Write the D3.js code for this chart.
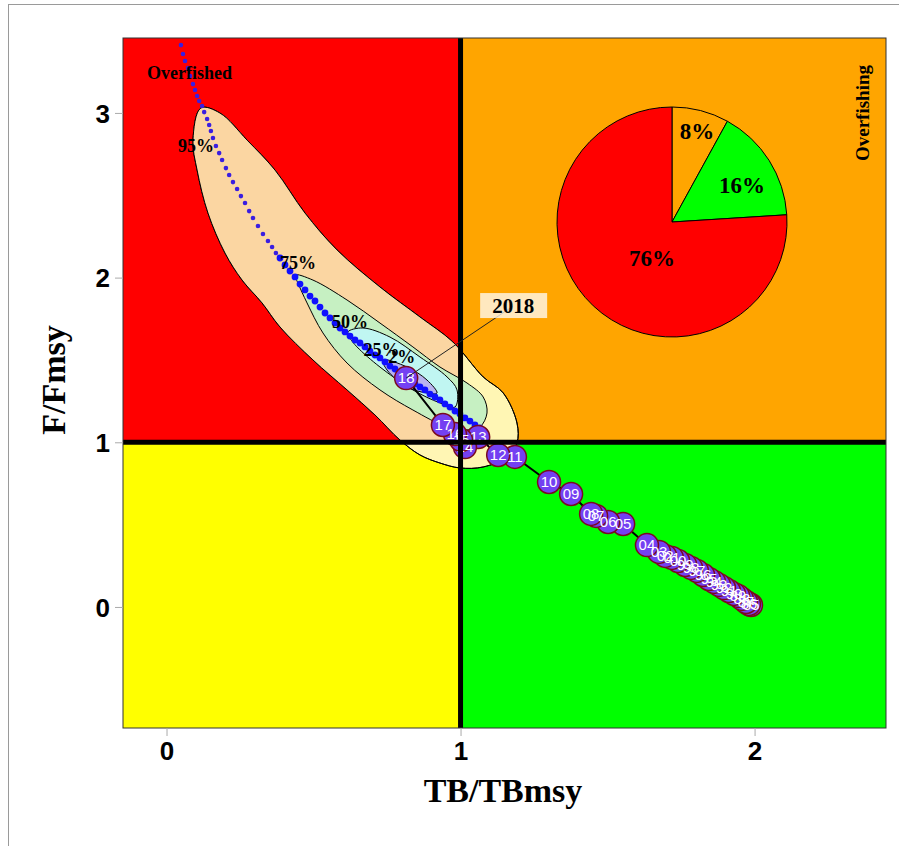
<!DOCTYPE html>
<html>
<head>
<meta charset="utf-8">
<script src="https://cdn.jsdelivr.net/npm/d3@7"></script>
<style>
  body { margin: 0; background: #fff; }
  svg { display: block; }
</style>
</head>
<body>
<div id="chart"></div>
<script>
// ---- data ----
var years = [1985,1986,1987,1988,1989,1990,1991,1992,1993,1994,1995,1996,1997,1998,1999,
             2000,2001,2002,2003,2004,2005,2006,2007,2008,2009,2010,2011,2012,2013,2014,
             2015,2016,2017,2018];
var tbRatio = [1.988,1.981,1.971,1.957,1.944,1.930,1.913,1.896,1.879,1.862,1.845,1.825,1.804,1.784,1.764,
               1.740,1.719,1.696,1.675,1.634,1.553,1.502,1.461,1.444,1.376,1.301,1.185,1.128,1.060,1.015,
               1.002,0.981,0.940,0.815];
var fRatio = [0.012,0.018,0.030,0.049,0.067,0.079,0.097,0.115,0.134,0.152,0.170,0.194,0.219,0.237,0.255,
              0.279,0.298,0.310,0.334,0.376,0.504,0.516,0.553,0.565,0.686,0.759,0.911,0.923,1.032,0.971,
              1.014,1.050,1.105,1.390];

// uncertainty cloud of the last year
var cloudX = [1.083,1.066,1.049,1.032,1.015,0.998,0.981,0.964,0.947,0.930,0.913,0.896,0.879,0.862,0.845,
              0.828,0.811,0.794,0.777,0.760,0.743,0.726,0.709,0.692,0.675,0.658,0.641,0.624,0.607,0.590,
              0.573,0.556,0.539,0.522,0.505,0.488,0.471,0.454,0.437,0.420,0.403,0.386,0.372,0.359,0.345,
              0.328,0.311,0.294,0.281,0.267,0.253,0.240,0.226,0.213,0.202,0.189,0.179,0.168,0.158,0.151,
              0.145,0.138,0.128,0.121,0.111,0.104,0.097,0.090,0.080,0.073,0.063,0.056,0.049];
var cloudY = [1.063,1.087,1.105,1.129,1.148,1.172,1.190,1.214,1.233,1.257,1.275,1.293,1.318,1.336,1.354,
              1.378,1.403,1.421,1.445,1.463,1.488,1.512,1.530,1.554,1.579,1.603,1.621,1.645,1.670,1.694,
              1.724,1.755,1.785,1.821,1.858,1.888,1.925,1.961,2.004,2.040,2.077,2.119,2.149,2.186,2.222,
              2.265,2.313,2.362,2.404,2.453,2.495,2.538,2.580,2.623,2.665,2.714,2.756,2.799,2.848,2.890,
              2.927,2.963,3.005,3.042,3.072,3.103,3.139,3.175,3.224,3.273,3.315,3.358,3.412];

// probability contours
var c95 = [[0.117,3.030],[0.182,2.999],[0.274,2.835],[0.369,2.653],[0.471,2.392],[0.580,2.168],[0.726,1.943],
           [0.862,1.761],[0.974,1.609],[1.077,1.397],[1.145,1.300],[1.192,1.117],[1.192,0.996],[1.158,0.911],
           [1.077,0.850],[0.998,0.844],[0.930,0.874],[0.862,0.923],[0.794,1.014],[0.709,1.166],[0.614,1.318],
           [0.498,1.500],[0.386,1.700],[0.325,1.846],[0.257,1.985],[0.199,2.149],[0.141,2.392],[0.104,2.653],
           [0.090,2.835]];
var c75 = [[0.437,2.016],[0.498,1.985],[0.614,1.864],[0.726,1.724],[0.838,1.579],[0.930,1.457],[1.022,1.360],
           [1.077,1.275],[1.090,1.178],[1.066,1.093],[1.022,1.075],[0.954,1.093],[0.838,1.196],[0.726,1.318],
           [0.614,1.481],[0.532,1.664],[0.478,1.846],[0.447,1.967]];
var c50 = [[0.617,1.670],[0.668,1.694],[0.760,1.639],[0.862,1.518],[0.954,1.397],[0.988,1.318],[0.981,1.214],
           [0.930,1.239],[0.838,1.318],[0.726,1.457],[0.648,1.579],[0.624,1.633]];
var c25 = [[0.736,1.500],[0.818,1.457],[0.886,1.378],[0.920,1.299],[0.886,1.299],[0.818,1.336],[0.750,1.439]];
var contourLabels = ["95%","75%","50%","25%","2%"];
var contourLabelPos = [[0.100,2.800],[0.447,2.090],[0.624,1.730],[0.731,1.560],[0.800,1.515]];

// share of the last year in each quadrant
var pieLabels = ["8%","16%","76%"];
var pieValues = [8,16,76];
var pieColors = ["#FFA500","#00FF00","#FF0000"];

var xTicks = [0,1,2];
var yTicks = [0,1,2,3];

// ---- layout ----
var W = 899, H = 846;
var svg = d3.select("#chart").append("svg").attr("width", W).attr("height", H);

var x = d3.scaleLinear().domain([-0.148, 2.447]).range([123, 886]);
var y = d3.scaleLinear().domain([-0.735, 3.455]).range([728, 38]);

svg.append("rect").attr("x", 8.5).attr("y", 4.5).attr("width", 895).attr("height", 850)
  .attr("fill", "none").attr("stroke", "#9a9a9a");

var defs = svg.append("defs");
defs.append("clipPath").attr("id", "panel").append("rect")
  .attr("x", x(-0.148)).attr("y", y(3.455))
  .attr("width", x(2.447) - x(-0.148)).attr("height", y(-0.735) - y(3.455));
defs.append("clipPath").attr("id", "redq").append("rect")
  .attr("x", x(-0.148)).attr("y", y(3.455))
  .attr("width", x(1) - x(-0.148)).attr("height", y(1) - y(3.455));

var g = svg.append("g").attr("clip-path", "url(#panel)");

// quadrants
var quads = [
  {x0: -0.148, x1: 1, y0: 1, y1: 3.455, c: "#FF0000"},
  {x0: 1, x1: 2.447, y0: 1, y1: 3.455, c: "#FFA500"},
  {x0: -0.148, x1: 1, y0: -0.735, y1: 1, c: "#FFFF00"},
  {x0: 1, x1: 2.447, y0: -0.735, y1: 1, c: "#00FF00"}
];
g.selectAll("rect.q").data(quads).enter().append("rect")
  .attr("x", function(d){ return x(d.x0); })
  .attr("y", function(d){ return y(d.y1); })
  .attr("width", function(d){ return x(d.x1) - x(d.x0); })
  .attr("height", function(d){ return y(d.y0) - y(d.y1); })
  .attr("fill", function(d){ return d.c; });

var shape = d3.line()
  .x(function(d){ return x(d[0]); })
  .y(function(d){ return y(d[1]); })
  .curve(d3.curveCatmullRomClosed.alpha(0.5));

g.append("path").attr("d", shape(c95)).attr("fill", "#FFF6B4").attr("stroke", "#000").attr("stroke-width", 1);
g.append("path").attr("d", shape(c95)).attr("fill", "#FBD6A2").attr("clip-path", "url(#redq)");
g.append("path").attr("d", shape(c95)).attr("fill", "none").attr("stroke", "#000").attr("stroke-width", 1);
g.append("path").attr("d", shape(c75)).attr("fill", "#C6F0C2").attr("stroke", "#000").attr("stroke-width", 1);
g.append("path").attr("d", shape(c50)).attr("fill", "#C0F6F2").attr("stroke", "#000").attr("stroke-width", 1);
g.append("path").attr("d", shape(c25)).attr("fill", "#B9B2F0").attr("stroke", "#000").attr("stroke-width", 1);

// cloud points
g.selectAll("circle.cl").data(cloudX).enter().append("circle")
  .attr("cx", function(d){ return x(d); })
  .attr("cy", function(d, i){ return y(cloudY[i]); })
  .attr("r", function(d, i){ return i > 41 ? 2.3 : 3.4; })
  .attr("fill", function(d, i){ return i > 41 ? "#3a1ee0" : "#1010ff"; });

// contour labels
g.selectAll("text.cl").data(contourLabels).enter().append("text")
  .attr("x", function(d, i){ return x(contourLabelPos[i][0]); })
  .attr("y", function(d, i){ return y(contourLabelPos[i][1]) + 6; })
  .attr("text-anchor", "middle")
  .attr("font-family", "Liberation Serif, serif").attr("font-weight", "bold").attr("font-size", 18)
  .text(function(d){ return d; });

// trajectory
var traj = years.map(function(yr, i){ return [tbRatio[i], fRatio[i]]; });
g.append("path")
  .attr("d", d3.line().x(function(d){ return x(d[0]); }).y(function(d){ return y(d[1]); })(traj))
  .attr("fill", "none").attr("stroke", "#000").attr("stroke-width", 2);

g.selectAll("circle.pt").data(traj).enter().append("circle")
  .attr("cx", function(d){ return x(d[0]); })
  .attr("cy", function(d){ return y(d[1]); })
  .attr("r", 11.5)
  .attr("fill", "#7440F2").attr("stroke", "#7a0a1e").attr("stroke-width", 1.5);

g.selectAll("text.pt").data(traj).enter().append("text")
  .attr("x", function(d){ return x(d[0]); })
  .attr("y", function(d){ return y(d[1]) + 5; })
  .attr("text-anchor", "middle")
  .attr("font-family", "Liberation Sans, Arial, sans-serif").attr("font-size", 15)
  .attr("fill", "#fff")
  .text(function(d, i){ return String(years[i]).slice(2); });

// reference lines
g.append("line").attr("x1", x(1)).attr("x2", x(1)).attr("y1", y(3.455)).attr("y2", y(-0.735))
  .attr("stroke", "#000").attr("stroke-width", 5);
g.append("line").attr("x1", x(-0.148)).attr("x2", x(2.447)).attr("y1", y(1)).attr("y2", y(1))
  .attr("stroke", "#000").attr("stroke-width", 5);

// last year label
var last = traj[traj.length - 1];
var lx = x(last[0]) + 107, ly = y(last[1]) - 72;
g.append("line").attr("x1", x(last[0])).attr("y1", y(last[1])).attr("x2", lx).attr("y2", ly)
  .attr("stroke", "#222").attr("stroke-width", 1);
g.append("rect").attr("x", lx - 33).attr("y", ly - 13).attr("width", 67).attr("height", 25)
  .attr("fill", "rgba(255,255,255,0.75)");
g.append("text").attr("x", lx).attr("y", ly + 7).attr("text-anchor", "middle")
  .attr("font-family", "Liberation Serif, serif").attr("font-weight", "bold").attr("font-size", 21)
  .text(years[years.length - 1]);

// quadrant names
g.append("text").attr("x", 147).attr("y", 79)
  .attr("font-family", "Liberation Serif, serif").attr("font-weight", "bold").attr("font-size", 18)
  .text("Overfished");
g.append("text").attr("transform", "translate(869,113) rotate(-90)").attr("text-anchor", "middle")
  .attr("font-family", "Liberation Serif, serif").attr("font-weight", "bold").attr("font-size", 19)
  .text("Overfishing");

// pie
var pieG = svg.append("g").attr("transform", "translate(672,222)");
var arcs = d3.pie().sort(null)(pieValues);
var arc = d3.arc().innerRadius(0).outerRadius(115);
pieG.selectAll("path").data(arcs).enter().append("path")
  .attr("d", arc)
  .attr("fill", function(d, i){ return pieColors[i]; })
  .attr("stroke", "#000").attr("stroke-width", 1);
var labelOffset = [[25, -91], [70, -37], [-20, 36]];
pieG.selectAll("text").data(arcs).enter().append("text")
  .attr("transform", function(d, i){ return "translate(" + labelOffset[i][0] + "," + (labelOffset[i][1] + 8) + ")"; })
  .attr("text-anchor", "middle")
  .attr("font-family", "Liberation Serif, serif").attr("font-weight", "bold").attr("font-size", 23)
  .text(function(d, i){ return pieLabels[i]; });

// panel border
svg.append("rect").attr("x", x(-0.148)).attr("y", y(3.455))
  .attr("width", x(2.447) - x(-0.148)).attr("height", y(-0.735) - y(3.455))
  .attr("fill", "none").attr("stroke", "#333").attr("stroke-width", 1);

// axes
var xAxis = svg.append("g").attr("transform", "translate(0," + y(-0.735) + ")")
  .call(d3.axisBottom(x).tickValues(xTicks).tickSize(8).tickFormat(d3.format("d")));
var yAxis = svg.append("g").attr("transform", "translate(" + x(-0.148) + ",0)")
  .call(d3.axisLeft(y).tickValues(yTicks).tickSize(8).tickFormat(d3.format("d")));
[xAxis, yAxis].forEach(function(a){
  a.select(".domain").remove();
  a.selectAll(".tick line").attr("stroke", "#aaa");
  a.selectAll(".tick text").attr("font-family", "Liberation Sans, Arial, sans-serif")
    .attr("font-weight", "bold").attr("font-size", 26).attr("fill", "#000");
});
xAxis.selectAll(".tick text").attr("dy", null).attr("y", 32);
yAxis.selectAll(".tick text").attr("dy", "0.36em").attr("x", -13);

svg.append("text").attr("x", 503).attr("y", 802).attr("text-anchor", "middle")
  .attr("font-family", "Liberation Serif, serif").attr("font-weight", "bold").attr("font-size", 34)
  .text("TB/TBmsy");
svg.append("text").attr("transform", "translate(65,380) rotate(-90)").attr("text-anchor", "middle")
  .attr("font-family", "Liberation Serif, serif").attr("font-weight", "bold").attr("font-size", 34)
  .text("F/Fmsy");
</script>
</body>
</html>
